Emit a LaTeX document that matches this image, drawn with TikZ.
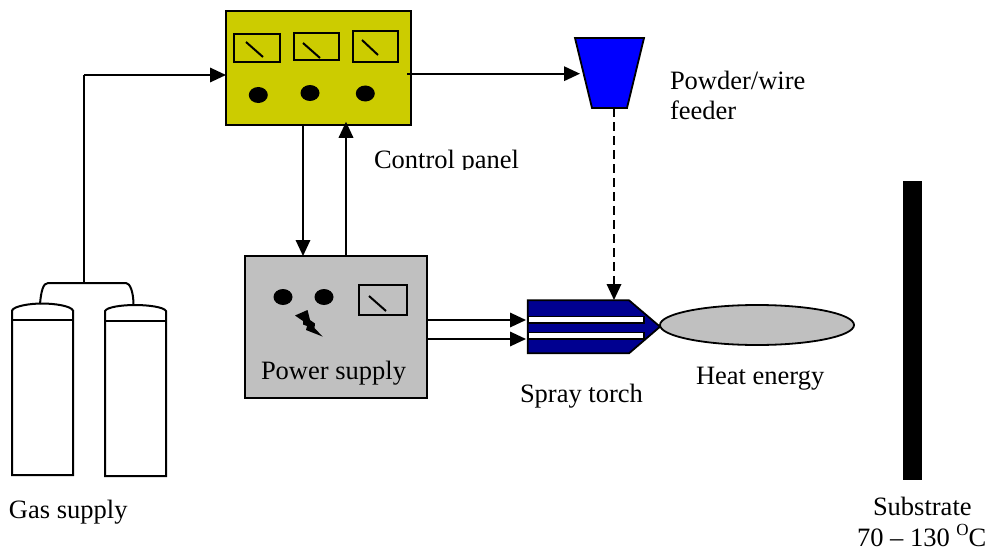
\documentclass[tikz,border=0pt]{standalone}
\usepackage{fontspec}
\setmainfont{Liberation Serif}
\usetikzlibrary{arrows.meta,calc,shapes.geometric}
\tikzset{
  line/.style={line width=1.8pt,draw=black},
  flow/.style={line width=1.8pt,draw=black,-{Triangle[length=16pt,width=14.5pt]},shorten >=0pt},
  box/.style={draw=black,line width=2pt,rectangle,inner sep=0pt,outer sep=0pt},
  meter/.style={draw=black,line width=2pt,fill=none},
  needle/.style={draw=black,line width=2pt},
  knob/.style={fill=black,draw=none},
  label/.style={font=\fontsize{26.5}{31}\selectfont,inner sep=0pt,outer sep=0pt,text=black,anchor=base west},
  cyl/.style={draw=black,line width=2pt,fill=white}
}
\definecolor{panelcol}{HTML}{CCCC00}
\definecolor{supplycol}{HTML}{C0C0C0}
\definecolor{torchcol}{HTML}{000090}
\definecolor{feedcol}{HTML}{0000FF}
\begin{document}
\begin{tikzpicture}[x=1pt,y=-1pt]
\useasboundingbox (0,0) rectangle (999,551);
% control panel
\node[box,fill=panelcol,minimum width=185pt,minimum height=113.5pt] (panel) at (318.5,68) {};
\draw[meter] (233.5,34) rectangle (280,62);
\draw[meter] (294,33) rectangle (339,60.5);
\draw[meter] (353,31.5) rectangle (398,62);
\draw[needle] (246,42)--(263,57);
\draw[needle] (303,43)--(320,58);
\draw[needle] (362,40)--(378,55);
\fill[knob] (258.3,95) ellipse (9.5 and 8);
\fill[knob] (310,93) ellipse (9.5 and 8);
\fill[knob] (365.3,93.5) ellipse (9.5 and 8);
% power supply
\node[box,fill=supplycol,minimum width=182.5pt,minimum height=142pt] (power) at (335.75,327) {};
\draw[meter] (358.5,284.5) rectangle (407,315);
\draw[needle] (369,296)--(386,311);
\fill[knob] (283,297) ellipse (9.5 and 8);
\fill[knob] (324,297) ellipse (9.5 and 8);
\fill[black] (295,315.5)--(307.5,310)--(310,320)--(315,323.5)--(314.5,328)--(322.5,336.5)--(306,330)--(307,326)--(303,324.5)--(303,321)--cycle;
\node[label] (powerlabel) at (261,379) {Power supply};
% feeder
\draw[line width=1.8pt,fill=feedcol] (575,38)--(644,38)--(627,108)--(592,108)--cycle;
\coordinate (feederin) at (580,73.7);
\coordinate (feederout) at (614,108);
% torch
\draw[line width=1.8pt,fill=torchcol] (527.7,300.3)--(629,300.3)--(660,326.7)--(629,353.3)--(527.7,353.3)--cycle;
\draw[line width=1.5pt,fill=white] (528.5,316.6)--(644,316.6)--(644,323)--(528.5,323)--cycle;
\draw[line width=1.5pt,fill=white] (528.5,332.6)--(644,332.6)--(644,339)--(528.5,339)--cycle;
\coordinate (torchtop) at (614,300);
\coordinate (torchin1) at (526,320);
\coordinate (torchin2) at (526,339);
% heat
\node[draw=black,line width=1.8pt,fill=supplycol,ellipse,minimum width=194pt,minimum height=40pt,inner sep=0pt] (heat) at (757,325) {};
% substrate
\node[fill=black,minimum width=19pt,minimum height=299pt,inner sep=0pt] (substrate) at (912.5,330.5) {};
% cylinders
\draw[cyl] (12,475)--(12,310.5) .. controls (14,306) and (30,303.5) .. (42,303.5) .. controls (55,303.5) and (71,306) .. (73,310.5)--(73,475)--cycle;
\draw[cyl] (12,319.5)--(73,319.5);
\draw[cyl] (105,476)--(105,311) .. controls (107,307) and (122,305) .. (135,305) .. controls (148,305) and (164,307) .. (166,311)--(166,476)--cycle;
\draw[cyl] (105,321)--(166,321);
\coordinate (cylA) at (40,304);
\coordinate (cylB) at (133.5,305);
\coordinate (manifold) at (84,283);
\coordinate (gasup) at (84,75);
\draw[line,line width=2pt] (cylA) .. controls (41,292) and (43,283) .. (48,283) -- (126,283) .. controls (130,283) and (133.5,292) .. (cylB);
% connectors
\coordinate (xdown) at (303,0);
\coordinate (xup) at (346,0);
\coordinate (xout) at (407,0);
\draw[line] (manifold) -- (gasup);
\draw[flow] (gasup) -- (panel.west |- gasup);
\draw[flow] (xout |- feederin) -- (feederin);
\draw[flow] (panel.south -| xdown) -- (power.north -| xdown);
\draw[flow] (power.north -| xup) -- ($(panel.south -| xup)+(0,-3)$);
\draw[flow] (power.east |- torchin1) -- (torchin1);
\draw[flow] (power.east |- torchin2) -- (torchin2);
\draw[flow,dash pattern=on 9pt off 5pt] (feederout) -- (torchtop);
% labels
\begin{scope}
\clip (360,140) rectangle (540,169.5);
\node[label] (panellabel) at (374,168) {Control panel};
\end{scope}
\node[label] (feederlabel1) at (670,89) {Powder/wire};
\node[label] (feederlabel2) at (670,119) {feeder};
\node[label] (torchlabel) at (520,402.5) {Spray torch};
\node[label] (heatlabel) at (696,384) {Heat energy};
\node[label] (gaslabel) at (9,518) {Gas supply};
\node[label] (sublabel) at (873,515) {Substrate};
\node[label] (templabel) at (857,546) {70 – 130 \raisebox{10.5pt}{\fontsize{17}{20}\selectfont O}C};
\end{tikzpicture}
\end{document}
